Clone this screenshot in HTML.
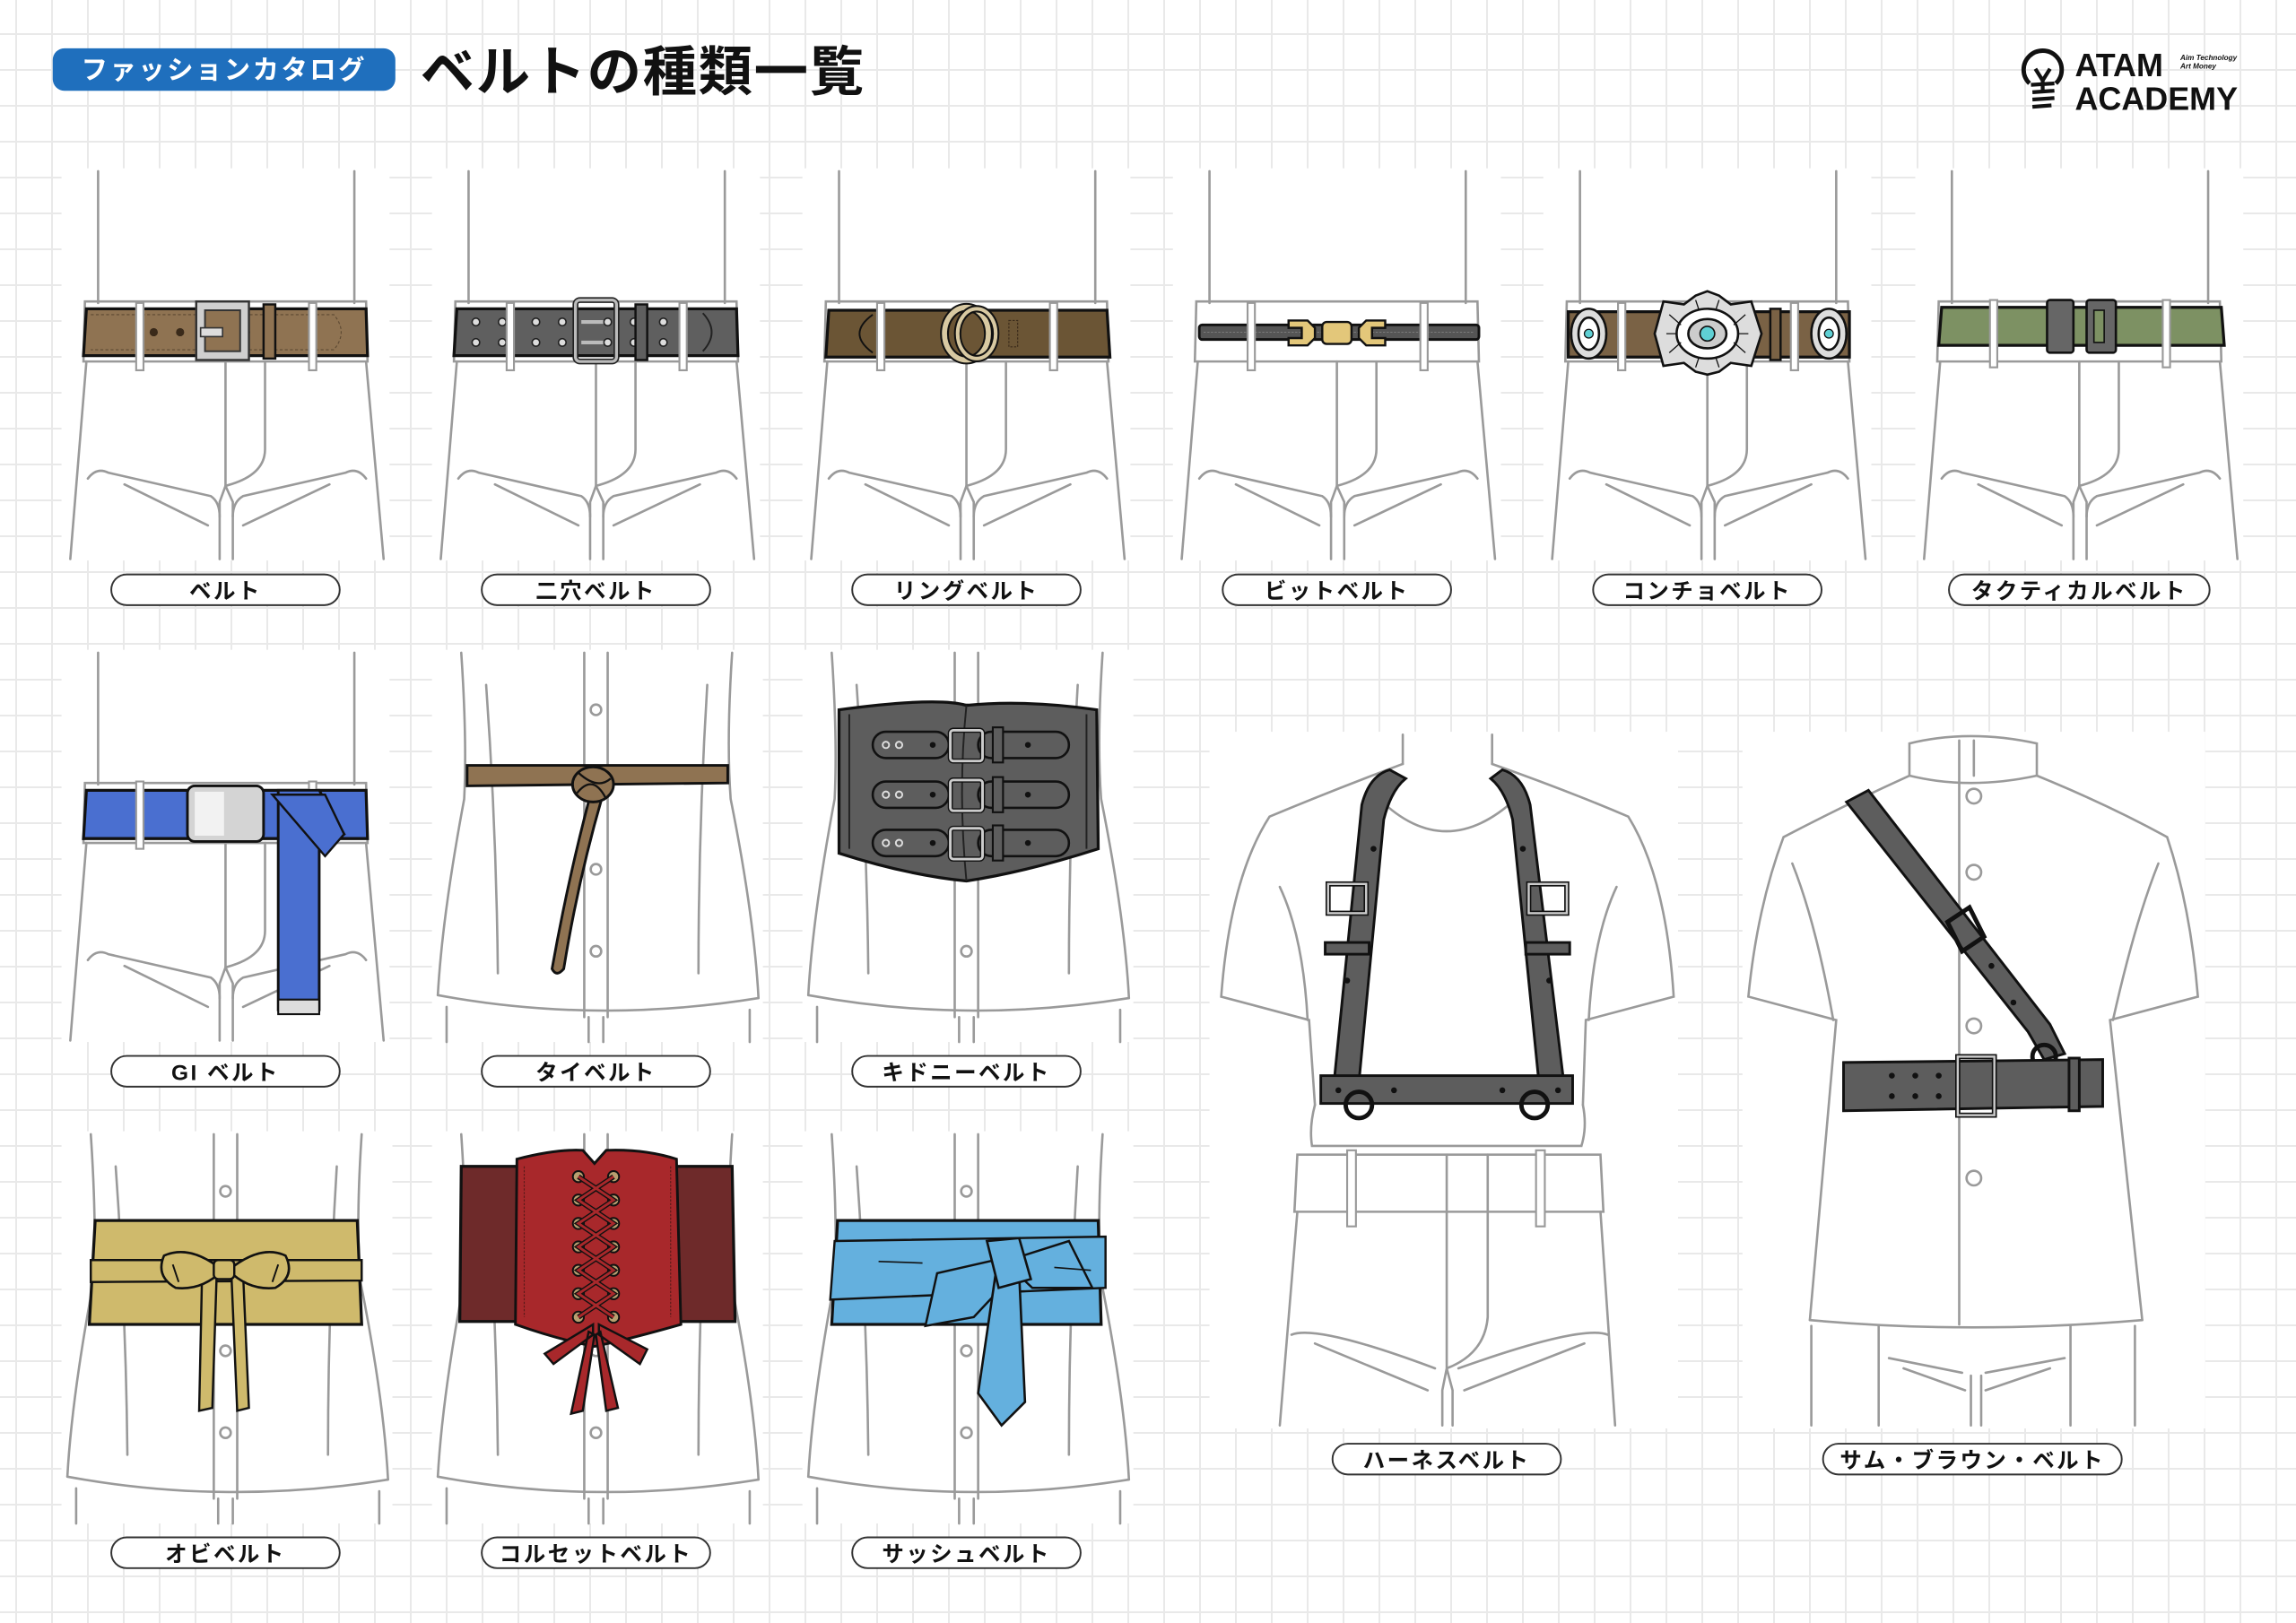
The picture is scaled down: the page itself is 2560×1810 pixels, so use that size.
<!DOCTYPE html>
<html><head><meta charset="utf-8">
<style>
html,body{margin:0;padding:0;width:2560px;height:1810px;overflow:hidden;background:#fff;}
body{background-color:#fff;background-image:linear-gradient(#e9e9e9 2px,transparent 2px),linear-gradient(90deg,#e9e9e9 2px,transparent 2px);background-size:40px 40px;background-position:17px 37px;}
svg{position:absolute;left:0;top:0;}
text{font-family:"Liberation Sans","Noto Sans CJK JP",sans-serif;}
</style></head><body>
<svg width="2560" height="1810" viewBox="0 0 1568 1109" preserveAspectRatio="none" xmlns="http://www.w3.org/2000/svg">
<defs>
<g id="pants">
<rect x="-112" y="-2" width="224" height="268" fill="#fff"/>
<g fill="none" stroke="#9a9a9a" stroke-width="1.6" stroke-linecap="round">
<path d="M-87,0 L-87,90 M88,0 L88,90"/>
<path d="M-96,89 L96,89 L97,130 L-97,130 Z"/>
<path d="M-95,130 L-106,265 M96,130 L108,265"/>
<path d="M0,130 L0,215 M-4,236 L-4,265 M5,236 L5,265 M0,215 L-4,226 L-4,236 M0,215 L5,226 L5,236"/>
<path d="M27,130 L27,190 Q27,208 0,215"/>
<path d="M-94,210 Q-88,202 -80,206 L-10,222 Q-4,226 -4,236 M-69,214 L-12,242"/>
<path d="M96,210 Q90,202 82,206 L12,222 Q5,226 5,236 M71,214 L12,242"/>
</g></g>
<g id="shirt">
<rect x="-112" y="-2" width="226" height="268" fill="#fff"/>
<g fill="none" stroke="#9a9a9a" stroke-width="1.6" stroke-linecap="round">
<path d="M-92,0 Q-88,60 -90,100 Q-105,180 -108,234"/>
<path d="M93,0 Q89,60 92,100 Q108,180 111,236"/>
<path d="M-108,234 Q0,254 111,236"/>
<path d="M-75,22 Q-68,120 -67,219 M76,22 Q70,120 70,219"/>
<path d="M-8,0 L-8,249 M8,0 L8,249"/>
<circle cx="0" cy="39" r="3.6"/><circle cx="0" cy="148" r="3.6"/><circle cx="0" cy="204" r="3.6"/>
<path d="M-102,242 L-102,266 M105,244 L105,266 M-5,249 L-5,266 M5,249 L5,266"/>
</g></g>
<g id="loops">
<rect x="-61" y="-4" width="5" height="46" fill="#fff" stroke="#999" stroke-width="1.3"/>
<rect x="57" y="-4" width="5" height="46" fill="#fff" stroke="#999" stroke-width="1.3"/>
</g>
<g id="pill">
<rect x="-78" y="-10.5" width="156" height="21" rx="10.5" fill="#fff" stroke="#333" stroke-width="1.2"/>
</g>
</defs>

<!-- Header -->
<rect x="36" y="33" width="234" height="29" rx="8" fill="#1f6fbd"/>
<text x="153" y="54" font-size="18" fill="#fff" text-anchor="middle" font-weight="700" letter-spacing="1.5">ファッションカタログ</text>
<text x="287" y="62" font-size="37" fill="#111" font-weight="700" letter-spacing="1">ベルトの種類一覧</text>

<!-- Logo -->
<g stroke="#111" stroke-width="3" fill="none">
<path d="M1386,57 A13,13 0 1 1 1404,57"/>
</g>
<g stroke="#111" stroke-width="2.6" fill="none">
<path d="M1390,47 L1395,55 L1400,47 M1395,55 L1395,62 M1387,58 L1403,57 M1388,63 L1403,62 M1388,68 L1403,67 M1388,73 L1401,72"/>
</g>
<text x="1417" y="52" font-size="22" font-weight="700" fill="#111">ATAM</text>
<text x="1417" y="75" font-size="22" font-weight="700" fill="#111">ACADEMY</text>
<text x="1489" y="41" font-size="5" font-weight="700" font-style="italic" fill="#111">Aim Technology</text>
<text x="1489" y="47" font-size="5" font-weight="700" font-style="italic" fill="#111">Art Money</text>

<!-- Row 1 pants -->
<use href="#pants" transform="translate(154,117)"/>
<use href="#pants" transform="translate(407,117)"/>
<use href="#pants" transform="translate(660,117)"/>
<use href="#pants" transform="translate(913,117)"/>
<use href="#pants" transform="translate(1166,117)"/>
<use href="#pants" transform="translate(1420,117)"/>

<!-- 1 belt -->
<path d="M59,211 L250,211 L251,243 L57,243 Z" fill="#8f7352" stroke="#111" stroke-width="2"/>
<path d="M62,215 L228,215 Q238,227 228,239 L62,239" fill="none" stroke="#5e4a33" stroke-width="0.7" stroke-dasharray="2 1.5"/>
<circle cx="105" cy="227" r="2.8" fill="#3a2a1a"/><circle cx="123" cy="227" r="2.8" fill="#3a2a1a"/><circle cx="168" cy="227" r="2.8" fill="#3a2a1a"/>
<rect x="134" y="206" width="36" height="40" fill="#cfcfcf" stroke="#333" stroke-width="1.5"/>
<rect x="140" y="212" width="24" height="28" fill="#8f7352" stroke="#333" stroke-width="1.2"/>
<rect x="137" y="224" width="15" height="6" fill="#ddd" stroke="#333" stroke-width="1"/>
<rect x="180" y="208" width="8" height="37" fill="#8f7352" stroke="#111" stroke-width="1.5"/>
<use href="#loops" transform="translate(154,211)"/>

<!-- 2 二穴 -->
<path d="M312,211 L503,211 L504,243 L310,243 Z" fill="#5f5f5f" stroke="#111" stroke-width="2"/>
<path d="M480,214 Q492,227 480,240" fill="none" stroke="#222" stroke-width="1.2"/>
<g fill="#ddd" stroke="#222" stroke-width="1">
<circle cx="325" cy="220" r="2.6"/><circle cx="325" cy="234" r="2.6"/><circle cx="343" cy="220" r="2.6"/><circle cx="343" cy="234" r="2.6"/>
<circle cx="366" cy="220" r="2.6"/><circle cx="366" cy="234" r="2.6"/><circle cx="384" cy="220" r="2.6"/><circle cx="384" cy="234" r="2.6"/>
<circle cx="415" cy="220" r="2.6"/><circle cx="415" cy="234" r="2.6"/><circle cx="433" cy="220" r="2.6"/><circle cx="433" cy="234" r="2.6"/>
<circle cx="453" cy="220" r="2.6"/><circle cx="453" cy="234" r="2.6"/>
</g>
<rect x="393" y="205" width="28" height="42" rx="3" fill="none" stroke="#222" stroke-width="4"/>
<rect x="393" y="205" width="28" height="42" rx="3" fill="none" stroke="#bbb" stroke-width="2"/>
<path d="M397,220 L412,220 M397,234 L412,234" stroke="#bbb" stroke-width="2.5"/>
<rect x="434" y="208" width="8" height="38" fill="#5f5f5f" stroke="#111" stroke-width="1.5"/>
<use href="#loops" transform="translate(407,211)"/>

<!-- 3 リング -->
<path d="M566,212 L756,212 L758,244 L564,244 Z" fill="#6b5535" stroke="#111" stroke-width="2"/>
<path d="M596,215 Q578,228 596,241" fill="none" stroke="#111" stroke-width="1.2"/>
<rect x="689" y="219" width="6" height="18" fill="none" stroke="#3a2a1a" stroke-width="0.7" stroke-dasharray="1.5 1"/>
<ellipse cx="660" cy="228" rx="15" ry="18" fill="none" stroke="#111" stroke-width="6"/>
<ellipse cx="660" cy="228" rx="15" ry="18" fill="none" stroke="#d8c9a2" stroke-width="3.5"/>
<ellipse cx="667" cy="228" rx="13" ry="17" fill="none" stroke="#111" stroke-width="5"/>
<ellipse cx="667" cy="228" rx="13" ry="17" fill="none" stroke="#d8c9a2" stroke-width="2.5"/>
<use href="#loops" transform="translate(660,211)"/>

<!-- 4 ビット -->
<rect x="819" y="222" width="191" height="10" rx="2" fill="#555" stroke="#111" stroke-width="1.8"/>
<path d="M822,227 L1007,227" stroke="#888" stroke-width="0.5" stroke-dasharray="1.5 1"/>
<g fill="#e3c77a" stroke="#111" stroke-width="1.5">
<path d="M880,219 L893,219 L898,224 L898,231 L893,236 L880,236 L880,231 L889,231 L889,224 L880,224 Z"/>
<rect x="903" y="220" width="20" height="15" rx="3"/>
<path d="M946,219 L933,219 L928,224 L928,231 L933,236 L946,236 L946,231 L937,231 L937,224 L946,224 Z"/>
</g>
<use href="#loops" transform="translate(913,211)"/>

<!-- 5 コンチョ -->
<rect x="1071" y="213" width="192" height="31" fill="#7a6245" stroke="#111" stroke-width="2"/>
<rect x="1209" y="211" width="7" height="35" fill="#7a6245" stroke="#111" stroke-width="1.5"/>
<circle cx="1132" cy="228" r="2.5" fill="#3a2a1a"/>
<use href="#loops" transform="translate(1166,211)"/>
<g stroke="#111" stroke-width="1.6">
<ellipse cx="1085" cy="228" rx="12" ry="17" fill="#ddd"/>
<ellipse cx="1085" cy="228" rx="7" ry="11" fill="#fff"/>
<circle cx="1085" cy="228" r="3" fill="#5fd0d4" stroke-width="0.8"/>
<ellipse cx="1249" cy="228" rx="12" ry="17" fill="#ddd"/>
<ellipse cx="1249" cy="228" rx="7" ry="11" fill="#fff"/>
<circle cx="1249" cy="228" r="3" fill="#5fd0d4" stroke-width="0.8"/>
<path d="M1136,206 L1150,208 L1158,202 L1166,199 L1174,202 L1182,208 L1196,206 L1203,228 L1196,250 L1182,248 L1174,254 L1166,256 L1158,254 L1150,248 L1136,250 L1130,228 Z" fill="#ddd"/>
<ellipse cx="1166" cy="228" rx="21" ry="17" fill="#fff"/>
<ellipse cx="1166" cy="228" rx="13" ry="10" fill="#ccc"/>
<circle cx="1166" cy="228" r="5" fill="#5fd0d4" stroke-width="1"/>
</g>
<g stroke="#111" stroke-width="0.8"><path d="M1140,215 L1148,222 M1138,228 L1145,228 M1140,241 L1148,234 M1192,215 L1184,222 M1194,228 L1187,228 M1192,241 L1184,234 M1158,205 L1160,211 M1174,205 L1172,211 M1158,251 L1160,245 M1174,251 L1172,245"/></g>

<!-- 6 タクティカル -->
<path d="M1326,210 L1517,210 L1519,236 L1324,236 Z" fill="#7d9163" stroke="#111" stroke-width="2"/>
<rect x="1398" y="205" width="18" height="36" rx="2" fill="#666" stroke="#111" stroke-width="1.6"/>
<rect x="1425" y="205" width="20" height="36" rx="2" fill="#666" stroke="#111" stroke-width="1.6"/>
<rect x="1430" y="212" width="7" height="22" fill="#7d9163" stroke="#111" stroke-width="1"/>
<use href="#loops" transform="translate(1420,209)"/>

<!-- Row 2 -->
<use href="#pants" transform="translate(154,446)"/>
<use href="#shirt" transform="translate(407,446)"/>
<use href="#shirt" transform="translate(660,446)"/>

<!-- GI belt -->
<path d="M59,540 L250,540 L251,573 L57,573 Z" fill="#4a6fd0" stroke="#111" stroke-width="2"/>
<use href="#loops" transform="translate(154,538)"/>
<path d="M190,540 L218,540 L235,570 L218,580 L218,690 L190,690 Z" fill="#4a6fd0" stroke="#111" stroke-width="1.8"/>
<path d="M186,543 L222,543 L235,570 L222,585 Z" fill="#4a6fd0" stroke="#111" stroke-width="1.5"/>
<rect x="190" y="683" width="28" height="10" fill="#ddd" stroke="#111" stroke-width="1.3"/>
<rect x="128" y="537" width="52" height="38" rx="5" fill="#d4d4d4" stroke="#111" stroke-width="1.8"/>
<rect x="133" y="541" width="20" height="30" fill="#f2f2f2"/>

<!-- Tie belt -->
<path d="M319,523 L497,523 L497,535 L319,537 Z" fill="#8f7352" stroke="#111" stroke-width="1.8"/>
<path d="M404,540 Q388,600 377,662 Q380,668 385,662 Q395,600 412,542 Z" fill="#8f7352" stroke="#111" stroke-width="1.8"/>
<ellipse cx="405" cy="536" rx="14" ry="12" fill="#8f7352" stroke="#111" stroke-width="1.8"/>
<path d="M395,528 Q408,540 417,532 M394,542 Q405,528 414,546" fill="none" stroke="#111" stroke-width="1.4"/>

<!-- Kidney belt -->
<path d="M573,485 Q640,476 660,482 Q700,478 749,485 L750,580 Q700,596 660,602 Q620,598 573,583 Z" fill="#5d5d5d" stroke="#111" stroke-width="2"/>
<path d="M580,488 L580,580 M742,488 L742,580 M660,482 Q654,540 660,602" fill="none" stroke="#222" stroke-width="1.2"/>
<g>
<rect x="596" y="500" width="52" height="18" rx="9" fill="#5d5d5d" stroke="#111" stroke-width="1.6"/>
<rect x="668" y="500" width="62" height="18" rx="9" fill="#5d5d5d" stroke="#111" stroke-width="1.6"/>
<rect x="596" y="534" width="52" height="18" rx="9" fill="#5d5d5d" stroke="#111" stroke-width="1.6"/>
<rect x="668" y="534" width="62" height="18" rx="9" fill="#5d5d5d" stroke="#111" stroke-width="1.6"/>
<rect x="596" y="567" width="52" height="18" rx="9" fill="#5d5d5d" stroke="#111" stroke-width="1.6"/>
<rect x="668" y="567" width="62" height="18" rx="9" fill="#5d5d5d" stroke="#111" stroke-width="1.6"/>
</g>
<g fill="none" stroke="#ddd" stroke-width="1.2">
<circle cx="605" cy="509" r="2.2"/><circle cx="614" cy="509" r="2.2"/>
<circle cx="605" cy="543" r="2.2"/><circle cx="614" cy="543" r="2.2"/>
<circle cx="605" cy="576" r="2.2"/><circle cx="614" cy="576" r="2.2"/>
</g>
<g fill="#111"><circle cx="637" cy="509" r="2"/><circle cx="637" cy="543" r="2"/><circle cx="637" cy="576" r="2"/><circle cx="702" cy="509" r="2"/><circle cx="702" cy="543" r="2"/><circle cx="702" cy="576" r="2"/></g>
<g fill="none" stroke="#111" stroke-width="3.5">
<rect x="649" y="499" width="22" height="21" rx="2"/><rect x="649" y="533" width="22" height="21" rx="2"/><rect x="649" y="566" width="22" height="21" rx="2"/>
</g>
<g fill="none" stroke="#ccc" stroke-width="1.8">
<rect x="649" y="499" width="22" height="21" rx="2"/><rect x="649" y="533" width="22" height="21" rx="2"/><rect x="649" y="566" width="22" height="21" rx="2"/>
</g>
<g fill="#5d5d5d" stroke="#111" stroke-width="1.3"><rect x="678" y="497" width="7" height="24"/><rect x="678" y="531" width="7" height="24"/><rect x="678" y="564" width="7" height="24"/></g>

<!-- Row 3 -->
<use href="#shirt" transform="translate(154,775)"/>
<use href="#shirt" transform="translate(407,775)"/>
<use href="#shirt" transform="translate(660,775)"/>

<!-- Obi -->
<path d="M65,834 L244,834 L247,905 L61,905 Z" fill="#cfba6c" stroke="#111" stroke-width="2"/>
<path d="M62,861 L247,861 L247,875 L62,876 Z" fill="#cfba6c" stroke="#111" stroke-width="1.5"/>
<path d="M138,870 L136,964 L145,962 L148,870 Z M158,870 L162,964 L170,962 L166,870 Z" fill="#cfba6c" stroke="#111" stroke-width="1.5"/>
<path d="M152,868 Q130,850 112,858 Q106,872 120,880 Q138,882 152,868 Z" fill="#cfba6c" stroke="#111" stroke-width="1.6"/>
<path d="M156,868 Q178,850 195,858 Q202,872 188,880 Q170,882 156,868 Z" fill="#cfba6c" stroke="#111" stroke-width="1.6"/>
<rect x="146" y="861" width="14" height="13" rx="3" fill="#cfba6c" stroke="#111" stroke-width="1.5"/>
<path d="M118,864 L122,876 M190,864 L186,876" stroke="#111" stroke-width="1.2"/>

<!-- Corset -->
<path d="M315,797 L500,797 L502,903 L314,903 Z" fill="#6e2a2a" stroke="#111" stroke-width="2"/>
<path d="M353,792 Q380,785 398,786 L406,795 L414,786 Q440,785 462,792 L465,905 Q430,915 406,920 Q380,915 352,905 Z" fill="#a8282b" stroke="#111" stroke-width="1.8"/>
<path d="M358,797 L358,900 M458,797 L458,900" stroke="#5a1a1a" stroke-width="0.7" stroke-dasharray="1.5 1"/>
<g fill="#b8a070" stroke="#111" stroke-width="1.2">
<circle cx="395" cy="804" r="3.8"/><circle cx="419" cy="804" r="3.8"/>
<circle cx="395" cy="820" r="3.8"/><circle cx="419" cy="820" r="3.8"/>
<circle cx="395" cy="836" r="3.8"/><circle cx="419" cy="836" r="3.8"/>
<circle cx="395" cy="852" r="3.8"/><circle cx="419" cy="852" r="3.8"/>
<circle cx="395" cy="868" r="3.8"/><circle cx="419" cy="868" r="3.8"/>
<circle cx="395" cy="884" r="3.8"/><circle cx="419" cy="884" r="3.8"/>
<circle cx="395" cy="900" r="3.8"/><circle cx="419" cy="900" r="3.8"/>
</g>
<path d="M395,804 L419,820 L395,836 L419,852 L395,868 L419,884 L395,900 M419,804 L395,820 L419,836 L395,852 L419,868 L395,884 L419,900" fill="none" stroke="#111" stroke-width="3.5"/>
<path d="M395,804 L419,820 L395,836 L419,852 L395,868 L419,884 L395,900 M419,804 L395,820 L419,836 L395,852 L419,868 L395,884 L419,900" fill="none" stroke="#a8282b" stroke-width="1.8"/>
<path d="M405,905 L372,925 L378,932 L405,912 Z M409,905 L442,922 L437,932 L409,912 Z M402,910 L390,966 L398,964 L406,912 Z M410,910 L422,962 L414,964 L407,912 Z" fill="#a8282b" stroke="#111" stroke-width="1.5"/>

<!-- Sash -->
<path d="M572,834 L750,834 L752,905 L568,905 Z" fill="#64b0de" stroke="#111" stroke-width="2"/>
<path d="M570,848 L755,845 L755,880 L567,888 Z" fill="#64b0de" stroke="#111" stroke-width="1.5"/>
<path d="M684,860 L640,870 L632,906 L665,900 L693,870 Z" fill="#64b0de" stroke="#111" stroke-width="1.5"/>
<path d="M686,862 L730,848 L746,880 L705,880 Z" fill="#64b0de" stroke="#111" stroke-width="1.5"/>
<path d="M680,870 L668,952 L684,974 L700,958 L696,870 Z" fill="#64b0de" stroke="#111" stroke-width="1.6"/>
<path d="M674,848 L696,846 L704,874 L682,880 Z" fill="#64b0de" stroke="#111" stroke-width="1.6"/>
<path d="M600,862 L630,863 M720,866 L745,868" stroke="#111" stroke-width="1"/>

<!-- Harness figure -->
<rect x="826" y="500" width="320" height="476" fill="#fff"/>
<g fill="none" stroke="#9a9a9a" stroke-width="1.6" stroke-linecap="round">
<path d="M958,502 L958,522 M1019,502 L1019,522"/>
<path d="M958,522 Q910,540 867,558 Q840,600 834,681 L894,697 L898,755"/>
<path d="M1019,522 Q1070,540 1112,558 Q1138,600 1143,681 L1083,697 L1081,755"/>
<path d="M942,546 Q987,590 1035,546"/>
<path d="M874,606 Q890,640 893,697 M1104,606 Q1088,640 1085,697"/>
<path d="M898,755 Q894,770 896,783 L1080,783 Q1084,770 1081,755"/>
<path d="M886,789 L1093,789 L1095,828 L884,828 Z"/>
<path d="M886,828 L874,974 M1093,828 L1103,974"/>
<path d="M988,789 L988,935 M1016,789 L1016,900 Q1014,925 988,935 M985,950 L985,974 M992,950 L992,974 M988,935 L985,950 M988,935 L992,950"/>
<path d="M882,912 Q900,905 980,935 M898,918 L975,950 M1098,912 Q1080,905 996,935 M1082,918 L1000,950"/>
</g>
<rect x="920" y="786" width="6" height="52" fill="#fff" stroke="#999" stroke-width="1.3"/>
<rect x="1049" y="786" width="6" height="52" fill="#fff" stroke="#999" stroke-width="1.3"/>
<g stroke="#111" stroke-width="1.8">
<path d="M949,526 Q935,530 930,550 L911,740 L928,740 L945,560 Q950,540 960,532 Z" fill="#5d5d5d"/>
<path d="M1026,526 Q1040,530 1045,550 L1068,740 L1051,740 L1033,560 Q1028,540 1018,532 Z" fill="#5d5d5d"/>
<rect x="902" y="735" width="172" height="19" fill="#5d5d5d"/>
<rect x="907" y="604" width="26" height="20" fill="none" stroke-width="3.5"/>
<rect x="1044" y="604" width="26" height="20" fill="none" stroke-width="3.5"/>
<rect x="905" y="644" width="30" height="8" fill="#5d5d5d"/>
<rect x="1042" y="644" width="30" height="8" fill="#5d5d5d"/>
</g>
<rect x="907" y="604" width="26" height="20" fill="none" stroke="#ccc" stroke-width="1.5"/>
<rect x="1044" y="604" width="26" height="20" fill="none" stroke="#ccc" stroke-width="1.5"/>
<circle cx="928" cy="755" r="9" fill="none" stroke="#111" stroke-width="3"/>
<circle cx="1048" cy="755" r="9" fill="none" stroke="#111" stroke-width="3"/>
<g fill="#111"><circle cx="914" cy="745" r="2"/><circle cx="952" cy="745" r="2"/><circle cx="1026" cy="745" r="2"/><circle cx="1064" cy="745" r="2"/><circle cx="920" cy="670" r="2"/><circle cx="1058" cy="670" r="2"/><circle cx="938" cy="580" r="2"/><circle cx="1040" cy="580" r="2"/></g>

<!-- Sam Browne figure -->
<rect x="1190" y="500" width="316" height="476" fill="#fff"/>
<g fill="none" stroke="#9a9a9a" stroke-width="1.6" stroke-linecap="round">
<path d="M1304,508 L1304,530 Q1345,540 1391,530 L1391,508 Q1345,498 1304,508 Z"/>
<path d="M1338,506 L1338,905 M1348,506 L1348,530"/>
<path d="M1304,530 Q1260,550 1218,572 Q1200,620 1194,681 L1254,697 L1236,902"/>
<path d="M1391,530 Q1440,550 1480,572 Q1496,620 1501,681 L1441,697 L1463,902"/>
<path d="M1224,590 Q1240,630 1252,697 M1474,590 Q1458,630 1443,697"/>
<path d="M1236,902 Q1345,912 1463,902"/>
<circle cx="1348" cy="544" r="5"/><circle cx="1348" cy="596" r="5"/><circle cx="1348" cy="701" r="5"/><circle cx="1348" cy="805" r="5"/>
<path d="M1237,906 L1237,974 M1458,906 L1458,974 M1283,906 L1283,974 M1414,906 L1414,974 M1346,940 L1346,974 M1353,940 L1353,974"/>
<path d="M1290,928 L1340,938 M1410,928 L1356,938 M1300,935 L1342,950 M1400,935 L1356,950"/>
</g>
<g stroke="#111" stroke-width="1.8">
<path d="M1261,548 L1276,540 L1400,700 L1410,720 L1396,724 L1385,705 Z" fill="#5d5d5d"/>
<circle cx="1396" cy="722" r="8" fill="none" stroke-width="3"/>
<path d="M1259,726 L1436,724 L1436,756 L1259,759 Z" fill="#5d5d5d"/>
<rect x="1337" y="722" width="25" height="40" fill="none" stroke-width="3.5"/>
<rect x="1413" y="723" width="7" height="36" fill="#5d5d5d"/>
<path d="M1330,630 L1345,620 L1355,640 L1340,650 Z" fill="none" stroke-width="3"/>
</g>
<rect x="1337" y="722" width="25" height="40" fill="none" stroke="#ccc" stroke-width="1.5"/>
<g fill="#111"><circle cx="1292" cy="735" r="2"/><circle cx="1292" cy="749" r="2"/><circle cx="1308" cy="735" r="2"/><circle cx="1308" cy="749" r="2"/><circle cx="1324" cy="735" r="2"/><circle cx="1324" cy="749" r="2"/><circle cx="1360" cy="660" r="2"/><circle cx="1375" cy="685" r="2"/></g>

<!-- Labels -->
<g font-size="15" font-weight="700" fill="#111" text-anchor="middle" letter-spacing="1.5">
<use href="#pill" transform="translate(154,403)"/><text x="154" y="409">ベルト</text>
<use href="#pill" transform="translate(407,403)"/><text x="407" y="409">二穴ベルト</text>
<use href="#pill" transform="translate(660,403)"/><text x="660" y="409">リングベルト</text>
<use href="#pill" transform="translate(913,403)"/><text x="913" y="409">ビットベルト</text>
<use href="#pill" transform="translate(1166,403)"/><text x="1166" y="409">コンチョベルト</text>
<g transform="translate(1420,403)"><rect x="-89" y="-10.5" width="178" height="21" rx="10.5" fill="#fff" stroke="#333" stroke-width="1.2"/></g><text x="1420" y="409">タクティカルベルト</text>
<use href="#pill" transform="translate(154,732)"/><text x="154" y="738">GI ベルト</text>
<use href="#pill" transform="translate(407,732)"/><text x="407" y="738">タイベルト</text>
<use href="#pill" transform="translate(660,732)"/><text x="660" y="738">キドニーベルト</text>
<use href="#pill" transform="translate(154,1061)"/><text x="154" y="1067">オビベルト</text>
<use href="#pill" transform="translate(407,1061)"/><text x="407" y="1067">コルセットベルト</text>
<use href="#pill" transform="translate(660,1061)"/><text x="660" y="1067">サッシュベルト</text>
<use href="#pill" transform="translate(988,997)"/><text x="988" y="1003">ハーネスベルト</text>
<g transform="translate(1347,997)"><rect x="-102" y="-10.5" width="204" height="21" rx="10.5" fill="#fff" stroke="#333" stroke-width="1.2"/></g><text x="1347" y="1003">サム・ブラウン・ベルト</text>
</g>
</svg>
</body></html>
